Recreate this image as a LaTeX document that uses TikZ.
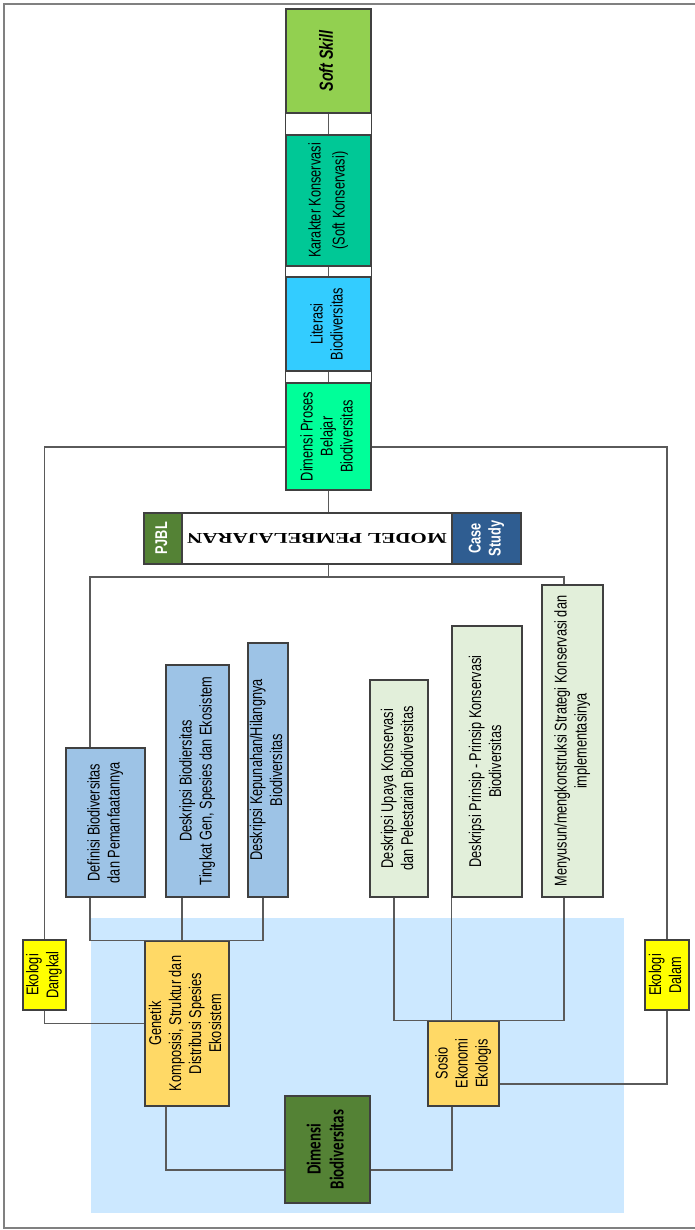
\documentclass[tikz,border=0pt]{standalone}
\usepackage{graphicx}
\usepackage{fontspec}
\setmainfont{Liberation Sans}
\newfontfamily\boxfont[FakeStretch=0.75]{Liberation Sans}
\newfontfamily\calfont[FakeStretch=0.75]{Carlito}
\newfontfamily\modelfont[FakeStretch=1.4]{Liberation Serif}

\definecolor{softgreen}{RGB}{146,208,80}
\definecolor{tealgreen}{RGB}{0,200,150}
\definecolor{skyblue}{RGB}{51,204,255}
\definecolor{springgreen}{RGB}{0,255,153}
\definecolor{pjblgreen}{RGB}{84,130,53}
\definecolor{caseblue}{RGB}{47,93,145}
\definecolor{boxblue}{RGB}{157,195,230}
\definecolor{boxmint}{RGB}{226,239,218}
\definecolor{boxgold}{RGB}{255,217,102}
\definecolor{ekoyellow}{RGB}{255,255,0}
\definecolor{bgblue}{RGB}{204,232,255}
\definecolor{framegray}{RGB}{128,128,128}
\definecolor{linegray}{RGB}{90,90,90}
\definecolor{boxline}{RGB}{64,64,64}

% text turned upright, read from bottom to top
\newcommand{\vtext}[1]{\rotatebox{90}{\begin{tabular}{@{}c@{}}#1\end{tabular}}}

\begin{document}
\begin{tikzpicture}[x=1pt,y=-1pt,
  box/.style={draw=boxline,line width=1.1pt,inner sep=0pt,text=black,
    font=\boxfont\fontsize{17}{20}\selectfont},
  link/.style={draw=linegray,line width=1.1pt}]
  \useasboundingbox (0,0) rectangle (694,1230);
  \draw[framegray,line width=2.5pt] (700,4) -- (4,4) -- (4,1228) -- (700,1228);
  \fill[bgblue] (91,918) rectangle (624,1213);

  % top column
  \node[box,fill=softgreen,minimum width=85pt,minimum height=104pt,
    font=\boxfont\bfseries\itshape\fontsize{19}{22}\selectfont] (soft) at (328.5,61) {\vtext{Soft Skill}};
  \node[box,fill=tealgreen,minimum width=85pt,minimum height=131pt] (karakter) at (328.5,200.5)
    {\vtext{Karakter Konservasi\\[4pt](Soft Konservasi)}};
  \node[box,fill=skyblue,minimum width=85pt,minimum height=94pt] (literasi) at (328.5,324)
    {\vtext{Literasi\\Biodiversitas}};
  \node[box,fill=springgreen,minimum width=85pt,minimum height=107pt] (proses) at (328.5,436.5)
    {\vtext{Dimensi Proses\\Belajar\\Biodiversitas}};
  \draw[draw=boxline,line width=1.1pt] (soft.north west) rectangle (proses.south east);
  \draw[link] (soft.south) -- (karakter.north);
  \draw[link] (karakter.south) -- (literasi.north);
  \draw[link] (literasi.south) -- (proses.north);

  % model bar
  \node[box,fill=pjblgreen,text=white,minimum width=38pt,minimum height=51pt,
    font=\boxfont\bfseries\fontsize{17}{20}\selectfont] (pjbl) at (163,538.5) {\vtext{PJBL}};
  \node[box,fill=white,minimum width=270pt,minimum height=51pt,
    font=\modelfont\bfseries\fontsize{15}{18}\selectfont] (model) at (317,538.5)
    {\rotatebox{180}{MODEL PEMBELAJARAN}};
  \node[box,fill=caseblue,text=white,minimum width=69pt,minimum height=51pt,
    font=\boxfont\bfseries\fontsize{17}{20}\selectfont] (case) at (486.5,538.5) {\vtext{Case\\Study}};
  \coordinate (hub) at (328.5,577);

  % left branch
  \node[box,fill=boxblue,minimum width=79pt,minimum height=149pt] (definisi) at (105.5,822.5)
    {\vtext{Definisi Biodiversitas\\dan Pemanfaatannya}};
  \node[box,fill=boxblue,minimum width=63pt,minimum height=232pt] (tingkat) at (197.5,781)
    {\vtext{Deskripsi Biodiersitas\\Tingkat Gen, Spesies dan Ekosistem}};
  \node[box,fill=boxblue,minimum width=36pt,minimum height=254pt] (kepunahan) at (268,770)
    {\vtext{Deskripsi Kepunahan/Hilangnya\\Biodiversitas}};

  % right branch
  \node[box,fill=boxmint,minimum width=58pt,minimum height=217pt] (upaya) at (399,788.5)
    {\vtext{Deskripsi Upaya Konservasi\\dan Pelestarian Biodiversitas}};
  \node[box,fill=boxmint,minimum width=70pt,minimum height=271pt] (prinsip) at (487,761.5)
    {\vtext{Deskripsi Prinsip - Prinsip Konservasi\\Biodiversitas}};
  \node[box,fill=boxmint,minimum width=61pt,minimum height=312pt] (menyusun) at (572.5,741)
    {\vtext{Menyusun/mengkonstruksi Strategi Konservasi dan\\implementasinya}};

  % biodiversity dimension
  \node[box,fill=ekoyellow,minimum width=43pt,minimum height=70pt] (dangkal) at (44.5,975)
    {\vtext{Ekologi\\Dangkal}};
  \node[box,fill=ekoyellow,minimum width=44pt,minimum height=70pt] (dalam) at (667,975)
    {\vtext{Ekologi\\Dalam}};
  \node[box,fill=boxgold,minimum width=84pt,minimum height=165pt] (genetik) at (187,1023.5)
    {\vtext{Genetik\\Komposisi, Struktur dan\\Distribusi Spesies\\Ekosistem}};
  \node[box,fill=boxgold,minimum width=71pt,minimum height=85pt] (sosio) at (463.5,1063.5)
    {\vtext{Sosio\\Ekonomi\\Ekologis}};
  \node[box,fill=pjblgreen,minimum width=85pt,minimum height=107pt,
    font=\calfont\bfseries\fontsize{20}{23}\selectfont] (dimbio) at (327.5,1149.5)
    {\vtext{Dimensi\\Biodiversitas}};

  % connectors
  \draw[link] (proses.south) -- (proses.south |- model.north);
  \draw[link] (proses.south |- model.south) -- (hub);
  \draw[link] ([xshift=-15.5pt]definisi.north) |- (hub) -| ([xshift=-8.5pt]menyusun.north);
  \draw[link] ([xshift=-15.5pt]definisi.south) |- (genetik.north) -| ([xshift=-5pt]kepunahan.south);
  \draw[link] ([xshift=-15.5pt]tingkat.south) |- (genetik.north);
  \draw[link] ([xshift=-5pt]upaya.south) |- (sosio.north) -| ([xshift=-8.5pt]menyusun.south);
  \draw[link] (prinsip.south west) |- (sosio.north);
  \draw[link] (dangkal.north) |- ([yshift=-10.5pt]proses.west);
  \draw[link] (dalam.north) |- ([yshift=-10.5pt]proses.east);
  \draw[link] (dangkal.south) |- (genetik.west);
  \draw[link] (dalam.south) |- ([yshift=-20.5pt]sosio.east);
  \draw[link] ([xshift=-21pt]genetik.south) |- ([yshift=-20.5pt]dimbio.west);
  \draw[link] ([yshift=-20.5pt]dimbio.east) -| ([xshift=-11.5pt]sosio.south);
\end{tikzpicture}
\end{document}
